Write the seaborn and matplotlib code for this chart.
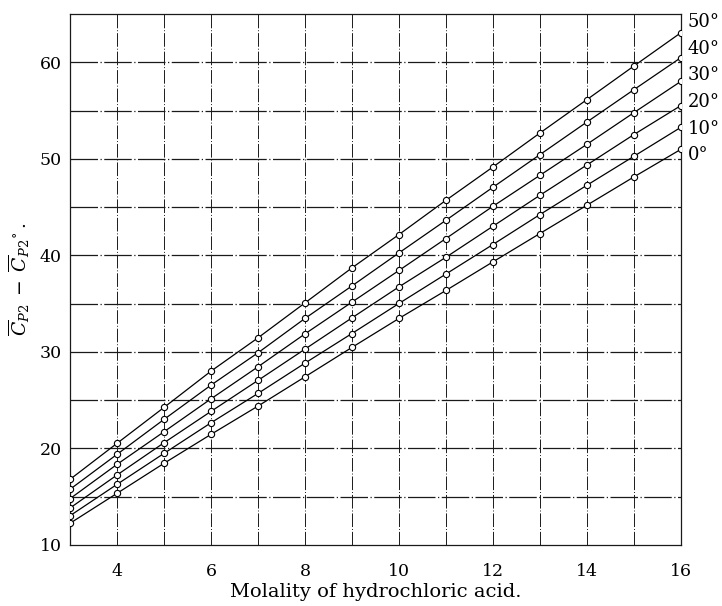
import matplotlib
matplotlib.use("Agg")
import matplotlib.pyplot as plt
import seaborn as sns
import pandas as pd

# Molality of HCl (mol/kg)
molality = [3, 4, 5, 6, 7, 8, 9, 10, 11, 12, 13, 14, 15, 16]

# Relative partial molal heat capacity at each temperature
cp_0 = [12.25, 15.35, 18.46, 21.46, 24.39, 27.42, 30.47, 33.47, 36.37, 39.33, 42.27, 45.20, 48.13, 50.99]
cp_10 = [13.03, 16.28, 19.49, 22.66, 25.70, 28.84, 31.91, 35.02, 38.07, 41.13, 44.23, 47.27, 50.27, 53.27]
cp_20 = [13.83, 17.25, 20.59, 23.84, 27.05, 30.29, 33.53, 36.74, 39.81, 43.02, 46.23, 49.37, 52.52, 55.52]
cp_30 = [14.80, 18.35, 21.73, 25.14, 28.46, 31.87, 35.16, 38.44, 41.75, 45.09, 48.30, 51.51, 54.79, 58.03]
cp_40 = [15.77, 19.39, 23.01, 26.56, 29.91, 33.47, 36.84, 40.26, 43.64, 47.06, 50.44, 53.82, 57.17, 60.49]
cp_50 = [16.80, 20.53, 24.25, 28.01, 31.46, 35.08, 38.71, 42.16, 45.71, 49.16, 52.68, 56.14, 59.62, 63.07]

temperatures = ["0°", "10°", "20°", "30°", "40°", "50°"]
series = [cp_0, cp_10, cp_20, cp_30, cp_40, cp_50]

x_ticks = [4, 6, 8, 10, 12, 14, 16]
y_ticks = [10, 20, 30, 40, 50, 60]

df = pd.DataFrame(
    [(m, v, t) for t, vals in zip(temperatures, series) for m, v in zip(molality, vals)],
    columns=["molality", "cp", "temp"],
)

sns.set_theme(style="white")
plt.rcParams["font.family"] = ["DejaVu Serif"]
plt.rcParams["mathtext.fontset"] = "dejavuserif"

fig = plt.figure(figsize=(7.22, 6.06), dpi=100)
ax = fig.add_axes([0.097, 0.1007, 0.846, 0.876])

# grid: vertical at every unit of molality, horizontal every 5 units
grid_kw = dict(color="#1a1a1a", zorder=1)
for gx in range(4, 16):
    ax.axvline(gx, lw=0.7, ls=(0, (14, 2, 1, 2)), **grid_kw)
for gy in range(15, 65, 5):
    ax.axhline(gy, lw=0.9, ls=(0, (22, 2, 1, 2)), **grid_kw)

sns.lineplot(
    data=df, x="molality", y="cp", hue="temp", hue_order=temperatures,
    palette={t: "black" for t in temperatures}, marker="o", markersize=4.5,
    markerfacecolor="white", markeredgecolor="black", markeredgewidth=0.8,
    linewidth=0.9, legend=False, ax=ax, zorder=3,
)

ax.set_xlim(3, 16)
ax.set_ylim(10, 65)
ax.set_xticks(x_ticks)
ax.set_yticks(y_ticks)
ax.tick_params(axis="both", length=0, labelsize=12.5, colors="black")
ax.tick_params(axis="x", pad=13)
ax.tick_params(axis="y", pad=6)
for sp in ax.spines.values():
    sp.set_color("#1a1a1a")
    sp.set_linewidth(0.9)

ax.set_xlabel("Molality of hydrochloric acid.", fontsize=14, color="black", labelpad=2)
ax.set_ylabel(r"$\overline{C}_{P2}\;-\;\overline{C}_{P2}{}^{\circ}\,.$", fontsize=13.5,
              color="black", labelpad=2)
ax.yaxis.set_label_coords(-0.062, 0.5)

# temperature labels stacked at the right-hand end of the curves
label_y = [0.734, 0.784, 0.834, 0.885, 0.935, 0.985]
for t, yy in zip(temperatures, label_y):
    ax.text(1.011, yy, t, transform=ax.transAxes, va="center", ha="left",
            fontsize=13, color="black")

fig.savefig("out.png", dpi=100, facecolor="white")
